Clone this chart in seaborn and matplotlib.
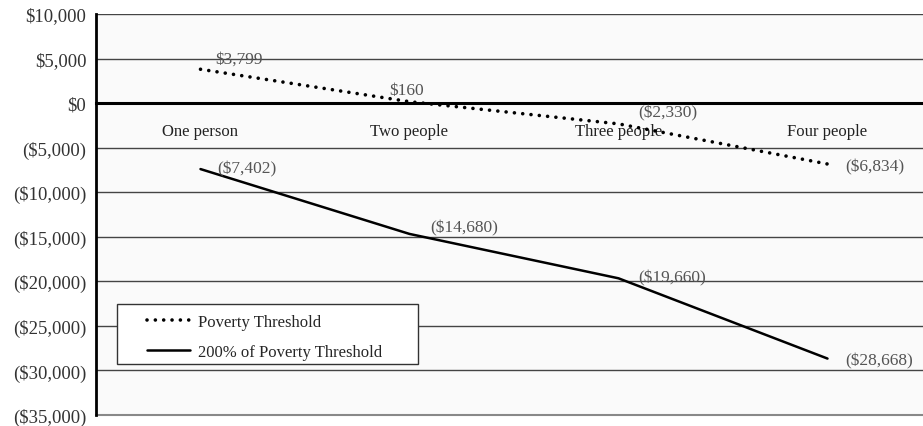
import pandas as pd
import matplotlib
matplotlib.use("Agg")
import matplotlib.pyplot as plt
from matplotlib.patches import Rectangle
from matplotlib.ticker import FuncFormatter, FixedLocator
import seaborn as sns

# ------------------------------
# Podaci
# ------------------------------
categories = ["One person", "Two people", "Three people", "Four people"]
poverty = [3799, 160, -2330, -6834]
poverty_200 = [-7402, -14680, -19660, -28668]
series_names = ["Poverty Threshold", "200% of Poverty Threshold"]

df = pd.DataFrame({
    "household": categories * 2,
    "value": poverty + poverty_200,
    "series": [series_names[0]] * 4 + [series_names[1]] * 4,
})


def money(v, pos=None):
    if v < 0:
        return "(${:,.0f})".format(-v)
    return "${:,.0f}".format(v)


sns.set_style("white")
plt.rcParams["font.family"] = ["Liberation Serif", "DejaVu Serif"]

fig = plt.figure(figsize=(9.23, 4.27), dpi=100)
ax = fig.add_axes([96 / 923, 11 / 427, 836 / 923, 401 / 427])
ax.set_facecolor("#fafafa")

sns.lineplot(data=df, x="household", y="value", hue="series", style="series",
             palette=["black", "black"],
             dashes={series_names[0]: (0.01, 2.3), series_names[1]: ""},
             linewidth=2.6, sort=False, ax=ax)
lines = ax.get_lines()
lines[0].set_dash_capstyle("round")
lines[1].set_linewidth(1.8)

ax.set_xlim(-0.5, 3.5)
ax.set_ylim(-35000, 10000)
ax.yaxis.set_major_locator(FixedLocator(range(-35000, 10001, 5000)))
ax.yaxis.set_major_formatter(FuncFormatter(money))
ax.tick_params(axis="y", length=4, width=1, direction="out", color="black",
               pad=3, labelsize=13.5, labelcolor="#333333")
ax.grid(axis="y", color="#444444", linewidth=1)
ax.grid(axis="x", visible=False)

# x-osa na nuli
ax.spines["bottom"].set_position(("data", 0))
ax.spines["bottom"].set_color("black")
ax.spines["bottom"].set_linewidth(2.2)
ax.spines["left"].set_color("black")
ax.spines["left"].set_linewidth(2)
ax.spines["top"].set_visible(False)
ax.spines["right"].set_visible(False)
ax.set_xticks(range(len(categories)))
ax.set_xticklabels(categories)
ax.set_xticks([0.5, 1.5, 2.5], minor=True)
ax.tick_params(axis="x", which="major", length=0, pad=14, labelsize=12,
               labelcolor="#222222")
ax.tick_params(axis="x", which="minor", length=3, width=1, direction="out",
               color="black")
ax.axhline(-35000, color="#888888", linewidth=1.5, clip_on=False)
ax.set_xlabel("")
ax.set_ylabel("")

# Labele vrednosti (pomeraj u pikselima)
offsets = [(39, 11), (-3, 12), (49, 12), (47, -2),
           (46, 1), (55, 7), (54, 1), (52, -2)]
values = poverty + poverty_200
xs = list(range(4)) * 2
for (x, v, off) in zip(xs, values, offsets):
    ax.annotate(money(v), (x, v), xytext=off, textcoords="offset pixels",
                ha="center", va="center", fontsize=12.5, color="#555555")

# Legenda sa posebnim okvirom
ax.add_patch(Rectangle((21 / 836, 51 / 401), 301 / 836, 60 / 401,
                       transform=ax.transAxes, facecolor="white",
                       edgecolor="#333333", linewidth=1, zorder=4))
handles, labels = ax.get_legend_handles_labels()
leg = ax.legend(handles, labels, loc="center left",
                bbox_to_anchor=(51 / 836, 78 / 401), fontsize=12,
                frameon=False, handlelength=2.6, handletextpad=0.45,
                borderpad=0, borderaxespad=0, labelspacing=0.85)
leg.set_zorder(5)
leg_lines = leg.get_lines()
leg_lines[0].set_dash_capstyle("round")
leg_lines[1].set_linewidth(1.8)

fig.savefig("out.png", dpi=100)
